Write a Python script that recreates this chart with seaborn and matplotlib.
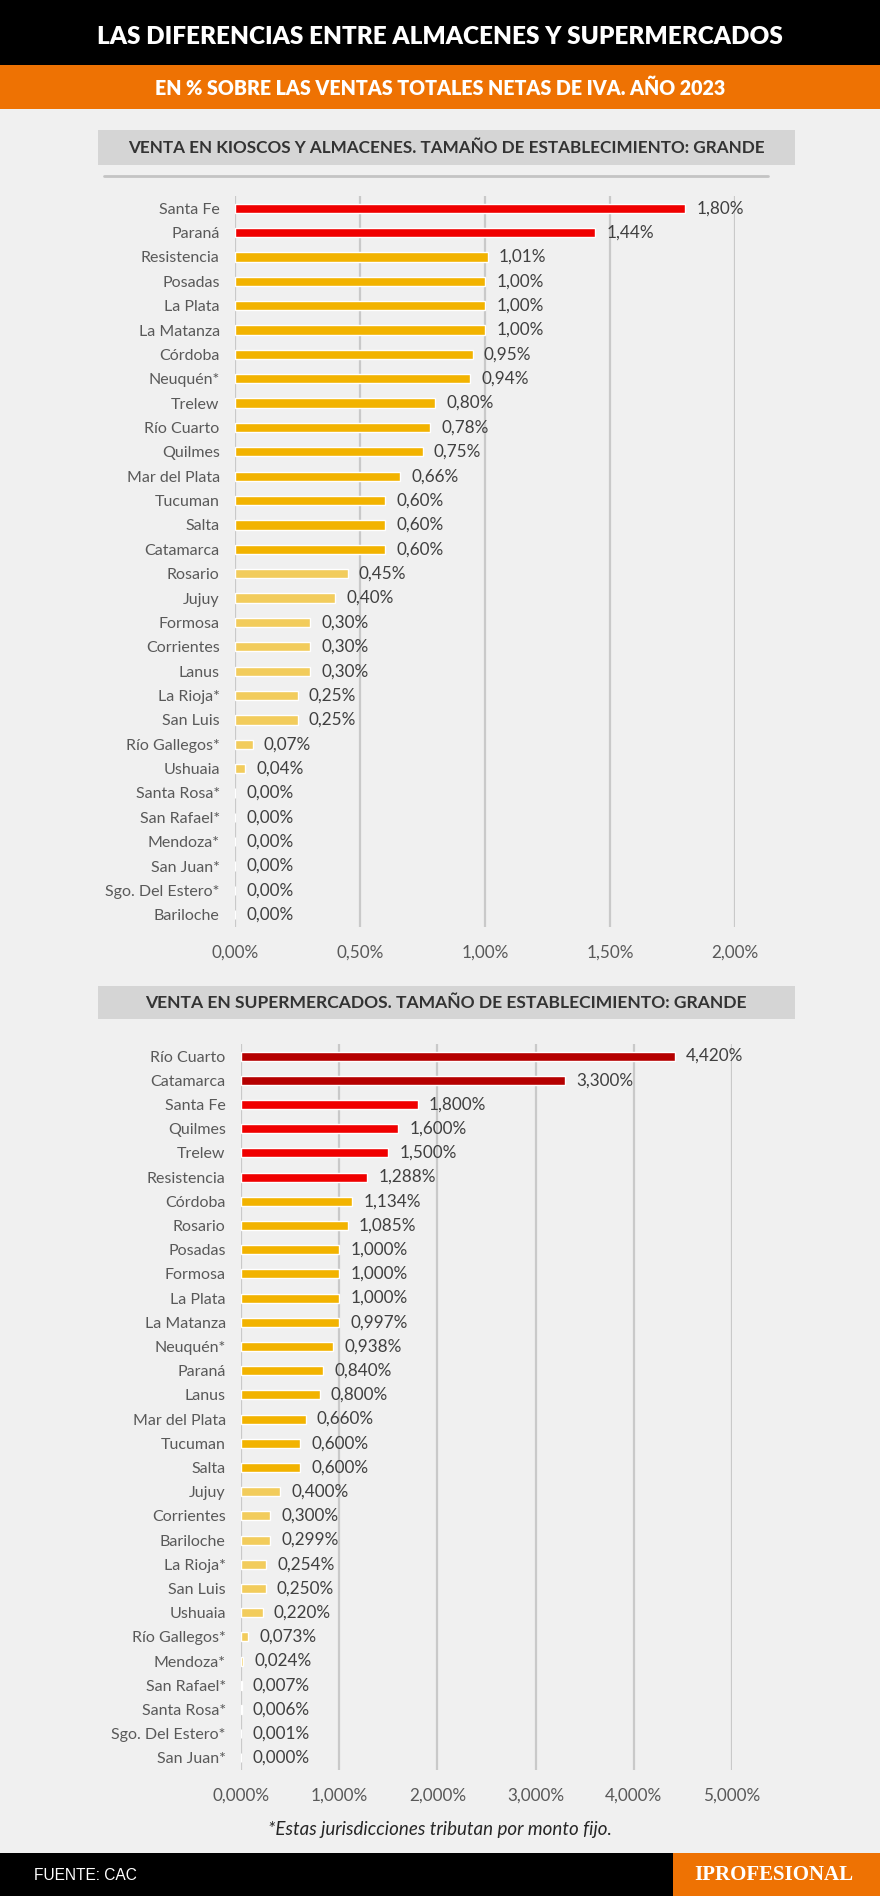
import pandas as pd
import matplotlib.pyplot as plt
import seaborn as sns
from matplotlib.patches import Rectangle
from matplotlib.lines import Line2D

# --- datos ---
ciudades_kioscos = ['Santa Fe', 'Paraná', 'Resistencia', 'Posadas', 'La Plata', 'La Matanza',
                    'Córdoba', 'Neuquén*', 'Trelew', 'Río Cuarto', 'Quilmes', 'Mar del Plata',
                    'Tucuman', 'Salta', 'Catamarca', 'Rosario', 'Jujuy', 'Formosa', 'Corrientes',
                    'Lanus', 'La Rioja*', 'San Luis', 'Río Gallegos*', 'Ushuaia', 'Santa Rosa*',
                    'San Rafael*', 'Mendoza*', 'San Juan*', 'Sgo. Del Estero*', 'Bariloche']
valores_kioscos = [1.80, 1.44, 1.01, 1.00, 1.00, 1.00, 0.95, 0.94, 0.80, 0.78, 0.75, 0.66,
                   0.60, 0.60, 0.60, 0.45, 0.40, 0.30, 0.30, 0.30, 0.25, 0.25, 0.07, 0.04,
                   0.00, 0.00, 0.00, 0.00, 0.00, 0.00]
nivel_kioscos = ['alto'] * 2 + ['medio'] * 13 + ['bajo'] * 15

ciudades_super = ['Río Cuarto', 'Catamarca', 'Santa Fe', 'Quilmes', 'Trelew', 'Resistencia',
                  'Córdoba', 'Rosario', 'Posadas', 'Formosa', 'La Plata', 'La Matanza',
                  'Neuquén*', 'Paraná', 'Lanus', 'Mar del Plata', 'Tucuman', 'Salta', 'Jujuy',
                  'Corrientes', 'Bariloche', 'La Rioja*', 'San Luis', 'Ushuaia', 'Río Gallegos*',
                  'Mendoza*', 'San Rafael*', 'Santa Rosa*', 'Sgo. Del Estero*', 'San Juan*']
valores_super = [4.420, 3.300, 1.800, 1.600, 1.500, 1.288, 1.134, 1.085, 1.000, 1.000, 1.000,
                 0.997, 0.938, 0.840, 0.800, 0.660, 0.600, 0.600, 0.400, 0.300, 0.299, 0.254,
                 0.250, 0.220, 0.073, 0.024, 0.007, 0.006, 0.001, 0.000]
nivel_super = ['max'] * 2 + ['alto'] * 4 + ['medio'] * 12 + ['bajo'] * 12

ticks_kioscos = [0, 0.5, 1.0, 1.5, 2.0]
ticks_super = [0, 1, 2, 3, 4, 5]

colores = {'max': '#B50000', 'alto': '#F00000', 'medio': '#F2B300', 'bajo': '#F2CC5C'}

BG = '#F0F0F0'
W, H = 880, 1896
TIT = ['Lato', 'DejaVu Sans']

sns.set_style('white')
plt.rcParams['font.family'] = ['Lato', 'DejaVu Sans']

fig = plt.figure(figsize=(W / 100, H / 100), dpi=100)
fig.set_facecolor(BG)


def fy(px):
    return 1 - px / H


def caja(x0, y0, x1, y1, color):
    fig.add_artist(Rectangle((x0 / W, fy(y1)), (x1 - x0) / W, (y1 - y0) / H,
                             transform=fig.transFigure, facecolor=color, edgecolor='none'))


# encabezado
caja(0, 0, W, 65, '#000000')
caja(0, 65, W, 109, '#EE7203')
fig.text(440 / W, fy(37), 'LAS DIFERENCIAS ENTRE ALMACENES Y SUPERMERCADOS', family=TIT,
         fontsize=17.5, fontweight='heavy', color='white', ha='center', va='center')
fig.text(440 / W, fy(88), 'EN % SOBRE LAS VENTAS TOTALES NETAS DE IVA. AÑO 2023', family=TIT,
         fontsize=14.1, fontweight='heavy', color='white', ha='center', va='center')

# cajas de sección
caja(98, 130, 795, 165, '#D5D5D5')
fig.text(446 / W, fy(148), 'VENTA EN KIOSCOS Y ALMACENES. TAMAÑO DE ESTABLECIMIENTO: GRANDE',
         family=TIT, fontsize=12.3, fontweight='bold', color='#333333', ha='center', va='center')
fig.add_artist(Line2D([104 / W, 768 / W], [fy(176), fy(176)], transform=fig.transFigure,
                      color='#C4C4C4', lw=2))
caja(98, 986, 795, 1019, '#D5D5D5')
fig.text(446 / W, fy(1003), 'VENTA EN SUPERMERCADOS. TAMAÑO DE ESTABLECIMIENTO: GRANDE',
         family=TIT, fontsize=12.6, fontweight='bold', color='#333333', ha='center', va='center')


def grafico(rect, ciudades, valores, nivel, ticks, dec):
    ax = fig.add_axes(rect)
    ax.set_facecolor(BG)
    df = pd.DataFrame({'ciudad': ciudades, 'valor': valores, 'nivel': nivel})
    sns.barplot(data=df, y='ciudad', x='valor', hue='nivel', palette=colores,
                dodge=False, width=0.38, saturation=1, legend=False, ax=ax, zorder=3)
    for i, v in enumerate(valores):
        txt = f'{v:.{dec}f}%'.replace('.', ',')
        ax.annotate(txt, (v, i), xytext=(8, 0), textcoords='offset points',
                    va='center', ha='left', fontsize=12.3, color='#404040')
    ax.set_xlim(ticks[0], ticks[-1])
    ax.set_xticks(ticks)
    ax.set_xticklabels([f'{t:.{dec}f}%'.replace('.', ',') for t in ticks])
    ax.set_xlabel('')
    ax.set_ylabel('')
    ax.grid(axis='x', color='#C9C9C9', lw=1.6, zorder=0)
    ax.grid(axis='y', visible=False)
    for s in ax.spines.values():
        s.set_visible(False)
    ax.tick_params(axis='y', length=0, pad=11, labelsize=11.5, labelcolor='#595959')
    ax.tick_params(axis='x', length=0, pad=13, labelsize=12.3, labelcolor='#595959')
    return ax


grafico([235 / W, fy(927), (735 - 235) / W, (927 - 196) / H],
        ciudades_kioscos, valores_kioscos, nivel_kioscos, ticks_kioscos, 2)
grafico([241 / W, fy(1770), (732 - 241) / W, (1770 - 1044) / H],
        ciudades_super, valores_super, nivel_super, ticks_super, 3)

fig.text(440 / W, fy(1830), '*Estas jurisdicciones tributan por monto fijo.',
         fontsize=13.5, fontstyle='italic', color='#262626', ha='center', va='center')

# pie
caja(0, 1853, W, H, '#000000')
caja(673, 1853, W, H, '#EE7203')
fig.text(34 / W, fy(1875), 'FUENTE: CAC', family=['Liberation Sans', 'DejaVu Sans'],
         fontsize=11.2, color='white', ha='left', va='center')
fig.text(774 / W, fy(1875), 'IPROFESIONAL', family=['Liberation Serif', 'DejaVu Serif'],
         fontsize=15, fontweight='bold', color='white', ha='center', va='center')

fig.savefig('out.png', dpi=100, facecolor=BG)
